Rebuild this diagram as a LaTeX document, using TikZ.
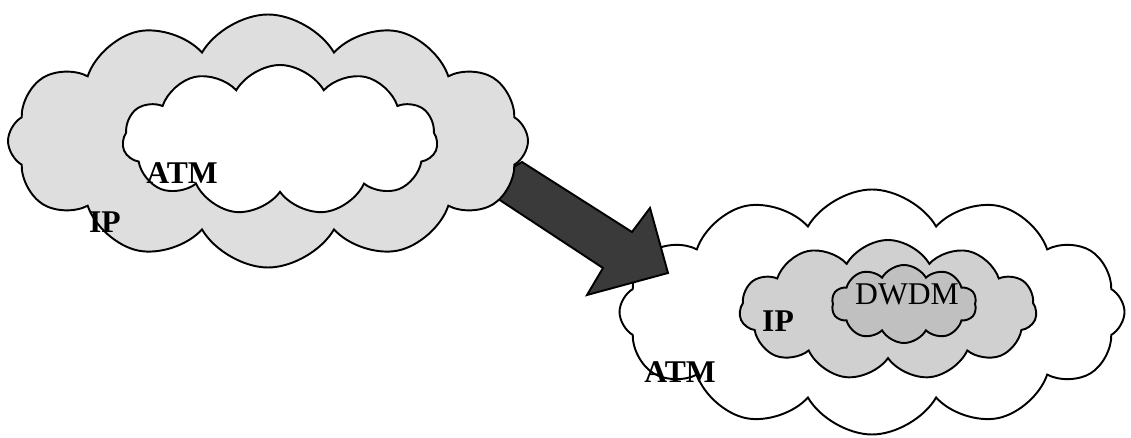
\documentclass[tikz,border=0pt]{standalone}
\usepackage{fontspec}
\setmainfont{Liberation Serif}
\usetikzlibrary{shapes.symbols}
\definecolor{lgray}{RGB}{222,222,222}
\definecolor{mgray}{RGB}{208,208,208}
\definecolor{dgray}{RGB}{192,192,192}
\definecolor{agray}{RGB}{58,58,58}
\tikzset{
  cl/.style={cloud, cloud ignores aspect, draw=black, line width=1.1pt, inner sep=0pt},
  lbl/.style={font=\fontsize{18}{18}\selectfont\bfseries, inner sep=0pt},
  lblr/.style={font=\fontsize{18}{18}\selectfont, inner sep=0pt}
}
\begin{document}
\begin{tikzpicture}[x=0.02cm,y=-0.02cm]
\useasboundingbox (0,0) rectangle (1131,438);
% right outer cloud
\node[cl, fill=white, cloud puffs=12, cloud puff arc=120, minimum width=505*0.02cm, minimum height=245*0.02cm] (ratm) at (872,312) {};
\node[cl, fill=mgray, cloud puffs=11, cloud puff arc=120, minimum width=297*0.02cm, minimum height=140*0.02cm] (rip) at (888,310) {};
\node[cl, fill=dgray, cloud puffs=10, cloud puff arc=120, minimum width=145*0.02cm, minimum height=78*0.02cm] (rdw) at (904,304) {};
% arrow
\coordinate (a1) at (480,187);
\coordinate (a2) at (522,162);
\coordinate (a3) at (632,232);
\coordinate (a4) at (650,208);
\coordinate (a5) at (668,273);
\coordinate (a6) at (587,295);
\coordinate (a7) at (603,268);
\draw[fill=agray, line width=1.1pt, line join=miter] (a1) -- (a2) -- (a3) -- (a4) -- (a5) -- (a6) -- (a7) -- cycle;
% left clouds
\node[cl, fill=lgray, cloud puffs=12, cloud puff arc=120, minimum width=520*0.02cm, minimum height=253*0.02cm] (lip) at (268,141) {};
\node[cl, fill=white, cloud puffs=11, cloud puff arc=120, minimum width=315*0.02cm, minimum height=150*0.02cm] (latm) at (280,140) {};
% labels
\node[lbl] (t1) at (182,173) {ATM};
\node[lbl] (t2) at (105,222) {IP};
\node[lbl] (t3) at (680,372) {ATM};
\node[lbl] (t4) at (778,321) {IP};
\node[lblr] (t5) at (907,294) {DWDM};
\end{tikzpicture}
\end{document}
